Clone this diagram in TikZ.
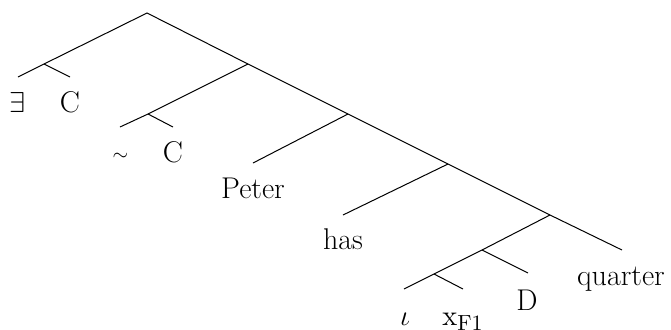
\documentclass[tikz,border=0pt]{standalone}
\begin{document}
\begin{tikzpicture}[x=0.5pt,y=-0.5pt,
  edge/.style={line width=0.5pt},
  lbl/.style={anchor=base,inner sep=0pt,font=\fontsize{15}{18}\selectfont}]
\useasboundingbox (0,0) rectangle (671,329);
% branching points
\coordinate (R) at (147,13);
\coordinate (J1) at (44,64);
\coordinate (S1) at (248,64);
\coordinate (J2) at (148,114);
\coordinate (S2) at (348,114);
\coordinate (S3) at (448,164);
\coordinate (S4) at (550,215);
\coordinate (J3) at (482,250);
\coordinate (J4) at (434,274);
% leaf ends
\coordinate (e1) at (18,77);
\coordinate (c1) at (70,77);
\coordinate (t1) at (120,127);
\coordinate (c2) at (173,127);
\coordinate (p1) at (253,163);
\coordinate (h1) at (343,215);
\coordinate (q1) at (622,250);
\coordinate (d1) at (528,273);
\coordinate (i1) at (404,289);
\coordinate (x1) at (463,289);
% edges
\draw[edge] (e1) -- (J1) -- (R) -- (S1) -- (S2) -- (S3) -- (S4) -- (q1);
\draw[edge] (J1) -- (c1);
\draw[edge] (S1) -- (J2) -- (t1);
\draw[edge] (J2) -- (c2);
\draw[edge] (S2) -- (p1);
\draw[edge] (S3) -- (h1);
\draw[edge] (S4) -- (J3) -- (J4) -- (i1);
\draw[edge] (J3) -- (d1);
\draw[edge] (J4) -- (x1);
% labels
\node[lbl] (nE) at (18,112) {$\exists$};
\node[lbl] (nC1) at (70,112) {C};
\node[lbl,font=\fontsize{10}{12}\selectfont] (nT) at (120.5,160) {$\sim$};
\node[lbl] (nC2) at (173,162) {C};
\node[lbl] (nP) at (253,198) {Peter};
\node[lbl] (nH) at (343,249) {has};
\node[lbl] (nQ) at (621,285) {quarter};
\node[lbl] (nD) at (527,310) {D};
\node[lbl] (nI) at (405,325) {$\iota$};
\node[lbl] (nX) at (463,325) {$\mathrm{x}_{\mathrm{F1}}$};
\end{tikzpicture}
\end{document}
